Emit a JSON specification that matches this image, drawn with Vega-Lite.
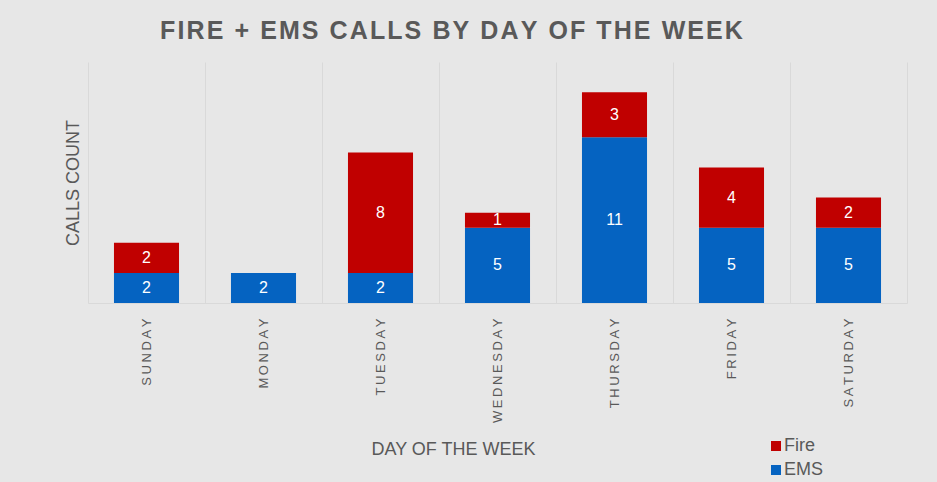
{
  "$schema": "https://vega.github.io/schema/vega-lite/v6.json",
  "width": 819,
  "height": 241,
  "autosize": {"type": "none"},
  "padding": {"left": 88, "top": 62, "right": 30, "bottom": 179},
  "background": "#e7e7e7",
  "title": {
    "text": {"expr": "join(split('FIRE + EMS CALLS BY DAY OF THE WEEK', ''), '\u200a')"},
    "fontSize": 25,
    "font": "Liberation Sans",
    "fontWeight": "bold",
    "color": "#595959",
    "anchor": "middle",
    "dx": -46,
    "dy": 22,
    "offset": 20,
    "baseline": "alphabetic"
  },
  "config": {"view": {"stroke": null}, "font": "Liberation Sans"},
  "data": {
    "values": [
      {"day": "SUNDAY", "type": "EMS", "count": 2},
      {"day": "SUNDAY", "type": "Fire", "count": 2},
      {"day": "MONDAY", "type": "EMS", "count": 2},
      {"day": "TUESDAY", "type": "EMS", "count": 2},
      {"day": "TUESDAY", "type": "Fire", "count": 8},
      {"day": "WEDNESDAY", "type": "EMS", "count": 5},
      {"day": "WEDNESDAY", "type": "Fire", "count": 1},
      {"day": "THURSDAY", "type": "EMS", "count": 11},
      {"day": "THURSDAY", "type": "Fire", "count": 3},
      {"day": "FRIDAY", "type": "EMS", "count": 5},
      {"day": "FRIDAY", "type": "Fire", "count": 4},
      {"day": "SATURDAY", "type": "EMS", "count": 5},
      {"day": "SATURDAY", "type": "Fire", "count": 2}
    ]
  },
  "encoding": {
    "x": {
      "field": "day",
      "type": "nominal",
      "sort": ["SUNDAY", "MONDAY", "TUESDAY", "WEDNESDAY", "THURSDAY", "FRIDAY", "SATURDAY"],
      "scale": {"paddingInner": 0, "paddingOuter": 0},
      "axis": {
        "title": "DAY OF THE WEEK",
        "titleX": 365,
        "labelAngle": -90,
        "labelFontSize": 13,
        "labelColor": "#595959",
        "labelPadding": 15,
        "labelExpr": "join(split(datum.label, ''), '\u2009')",
        "ticks": false,
        "domainColor": "#d9d9d9",
        "grid": true,
        "gridColor": "#d9d9d9",
        "tickBand": "extent",
        "titleFontSize": 18,
        "titleFontWeight": "normal",
        "titleColor": "#595959",
        "titlePadding": 18
      }
    }
  },
  "layer": [
    {
      "mark": {"type": "bar", "width": {"band": 0.556}},
      "encoding": {
        "y": {
          "field": "count",
          "type": "quantitative",
          "stack": "zero",
          "scale": {"domain": [0, 16]},
          "axis": {
            "title": "CALLS COUNT",
            "labels": false,
            "ticks": false,
            "domain": false,
            "grid": false,
            "titleFontSize": 18,
            "titleFontWeight": "normal",
            "titleColor": "#595959",
            "titlePadding": 6
          }
        },
        "color": {
          "field": "type",
          "type": "nominal",
          "scale": {"domain": ["Fire", "EMS"], "range": ["#C00000", "#0563C1"]},
          "legend": {
            "title": null,
            "orient": "none",
            "legendX": 679,
            "legendY": 375,
            "symbolType": "square",
            "symbolSize": 100,
            "symbolStrokeWidth": 0,
            "labelFontSize": 18,
            "labelColor": "#595959",
            "labelOffset": -1,
            "rowPadding": 6
          }
        },
        "order": {"field": "type", "sort": "ascending"}
      }
    },
    {
      "transform": [
        {"stack": "count", "groupby": ["day"], "sort": [{"field": "type", "order": "ascending"}], "as": ["v0", "v1"]},
        {"fold": ["v0", "v1"], "as": ["k", "v"]},
        {"aggregate": [{"op": "mean", "field": "v", "as": "mid"}], "groupby": ["day", "type", "count"]}
      ],
      "mark": {"type": "text", "color": "white", "fontSize": 16, "baseline": "middle"},
      "encoding": {
        "y": {
          "field": "mid",
          "type": "quantitative",
          "axis": {
            "title": "CALLS COUNT",
            "labels": false,
            "ticks": false,
            "domain": false,
            "grid": false,
            "titleFontSize": 18,
            "titleFontWeight": "normal",
            "titleColor": "#595959",
            "titlePadding": 6
          }
        },
        "text": {"field": "count", "type": "quantitative"}
      }
    }
  ]
}
